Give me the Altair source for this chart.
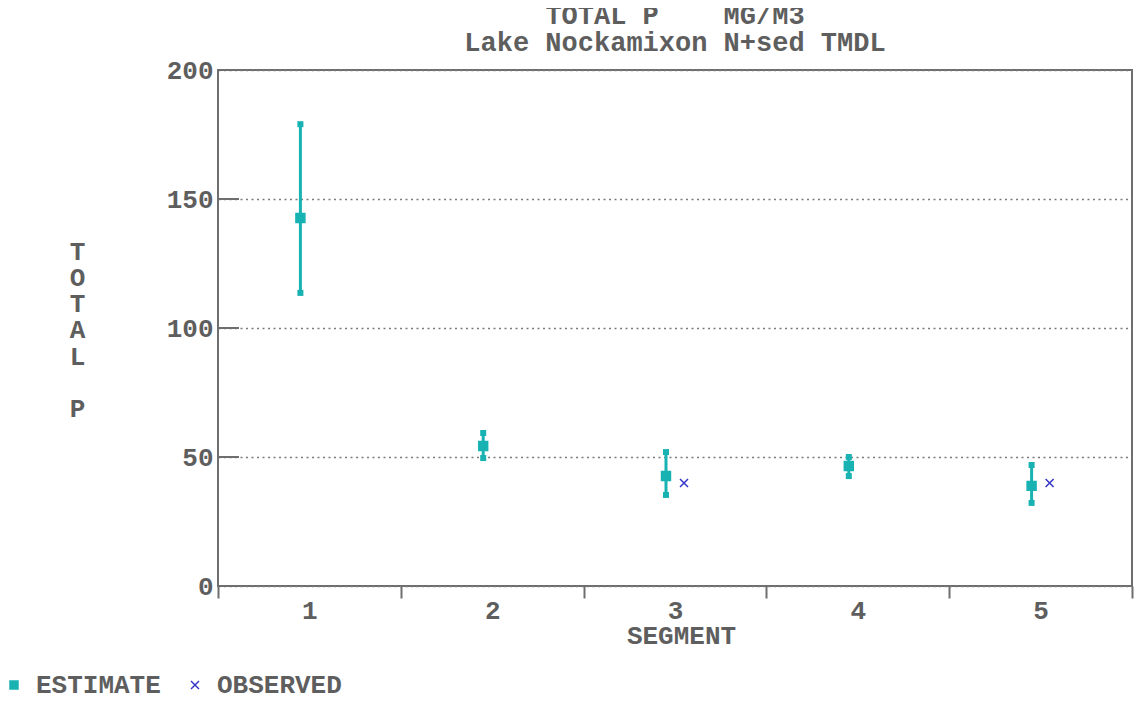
import altair as alt
import pandas as pd

# ---- data ----
segments = ["1", "2", "3", "4", "5"]
estimate = [142.6, 54.3, 42.6, 46.5, 38.8]
lower = [113.6, 49.6, 35.3, 42.6, 32.2]
upper = [179.0, 59.3, 51.9, 50.0, 46.9]
obs_segments = ["3", "5"]
observed = [39.9, 39.9]
y_ticks = [0, 50, 100, 150, 200]
series = ["ESTIMATE", "OBSERVED"]

NBSP = "\u00a0"
ZWSP = "\u200b"
TEAL = "#19b2b2"
BLUE = "#3434c8"
GRAY = "#5e5e5e"
LINE = "#6e6e6e"
FONT = "Liberation Mono"

est_df = pd.DataFrame({"segment": segments, "value": estimate, "lo": lower,
                       "hi": upper, "type": ["ESTIMATE"] * len(segments)})
obs_df = pd.DataFrame({"segment": obs_segments, "value": observed,
                       "type": ["OBSERVED"] * len(obs_segments)})
tick_df = pd.DataFrame({"v": y_ticks})

x_enc = alt.X(
    "segment:O",
    scale=alt.Scale(domain=segments, paddingInner=0, paddingOuter=0),
    axis=alt.Axis(title="SEGMENT", labelAngle=0, tickBand="extent", tickSize=12,
                  tickWidth=2, tickColor=LINE, domain=False, grid=False,
                  labelPadding=-1, titlePadding=-1, titleX=463, titleAlign="center"),
)
y_scale = alt.Scale(domain=[0, 200], nice=False, zero=True)
y_axis = alt.Axis(values=y_ticks, title=["T", "O", "T", "A", "L", ZWSP, "P"],
                  titleAngle=0, titleX=-141, titleY=168, titleAlign="center",
                  titleBaseline="top", titleLineHeight=26.3,
                  domain=False, ticks=False, labelPadding=5,
                  grid=True, gridDash=[2, 3.5], gridColor="#7a7a7a", gridWidth=1.5)

shape_scale = alt.Scale(domain=series, range=["square", "M-1,-1L1,1M-1,1L1,-1"])
color_scale = alt.Scale(domain=series, range=[TEAL, BLUE])

bars = alt.Chart(est_df).mark_rule(color=TEAL, strokeWidth=3, xOffset=-9).encode(
    x=x_enc, y=alt.Y("lo:Q", scale=y_scale, axis=y_axis), y2="hi:Q")
caps_lo = alt.Chart(est_df).mark_square(color=TEAL, size=36, opacity=1, xOffset=-9).encode(
    x=x_enc, y=alt.Y("lo:Q", scale=y_scale, axis=y_axis))
caps_hi = alt.Chart(est_df).mark_square(color=TEAL, size=36, opacity=1, xOffset=-9).encode(
    x=x_enc, y=alt.Y("hi:Q", scale=y_scale, axis=y_axis))

legend = alt.Legend(title=None, orient="none", legendX=-217, legendY=602,
                    direction="horizontal", columns=2, columnPadding=21,
                    symbolSize=64, symbolStrokeWidth=1.5, labelOffset=9)

est_pts = alt.Chart(est_df).mark_point(size=80, opacity=1, strokeWidth=1.5, xOffset=-9).encode(
    x=x_enc, y=alt.Y("value:Q", scale=y_scale, axis=y_axis),
    shape=alt.Shape("type:N", scale=shape_scale, legend=legend),
    fill=alt.Fill("type:N", scale=color_scale, legend=legend),
    stroke=alt.Stroke("type:N", scale=color_scale, legend=legend))
obs_pts = alt.Chart(obs_df).mark_point(size=64, opacity=1, strokeWidth=1.5, xOffset=9).encode(
    x=x_enc, y=alt.Y("value:Q", scale=y_scale, axis=y_axis),
    shape=alt.Shape("type:N", scale=shape_scale, legend=legend),
    fill=alt.Fill("type:N", scale=color_scale, legend=legend),
    stroke=alt.Stroke("type:N", scale=color_scale, legend=legend))

inner_ticks = alt.Chart(tick_df).mark_rule(color=LINE, strokeWidth=2).encode(
    y=alt.Y("v:Q", scale=y_scale, axis=y_axis), x=alt.value(0), x2=alt.value(21))

title_lines = ["TOTAL P" + NBSP * 4 + "MG/M3", "Lake Nockamixon N+sed TMDL"]

chart = alt.layer(inner_ticks, bars, caps_lo, caps_hi, est_pts, obs_pts).properties(
    width=914, height=516,
    title=alt.TitleParams(text=title_lines, anchor="middle", offset=0, lineHeight=27),
    autosize=alt.AutoSizeParams(type="none"),
    padding={"left": 210, "top": 62, "right": 2, "bottom": 108},
).configure_view(stroke=LINE, strokeWidth=2).configure_axis(
    labelFont=FONT, labelFontSize=26, labelFontWeight="bold", labelColor=GRAY,
    titleFont=FONT, titleFontSize=26, titleFontWeight="bold", titleColor=GRAY,
).configure_title(font=FONT, fontSize=27, fontWeight="bold", color=GRAY
).configure_legend(labelFont=FONT, labelFontSize=26, labelFontWeight="bold",
                   labelColor=GRAY)

chart.save("out.html", embed_options={"renderer": "svg", "actions": False})
